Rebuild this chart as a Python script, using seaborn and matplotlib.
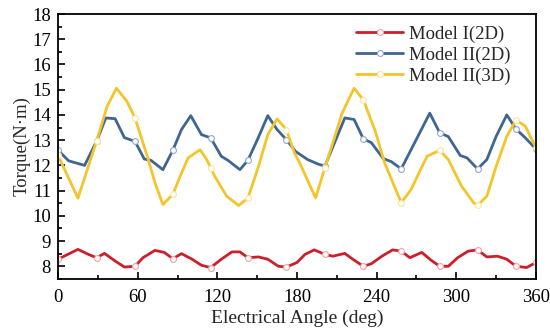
import numpy as np
import pandas as pd
import matplotlib
matplotlib.use("Agg")
import matplotlib.pyplot as plt
from matplotlib.ticker import MultipleLocator
import seaborn as sns

# ---- data ----
marker_angles = [0, 29, 58, 86.5, 115, 143, 172, 201, 230, 258.5, 287.5, 316, 345, 360]

red_angle = [0, 15, 23, 29, 35, 43, 50, 58, 64, 73, 80, 86.5, 93, 101, 108, 115,
             123, 131, 137, 143, 151, 158, 166, 172, 180, 186, 193, 201, 207, 216,
             222, 230, 236, 244, 252, 258.5, 265, 274, 281, 287.5, 294, 301, 309,
             316, 323, 331, 338, 345, 353, 360]
red_torque = [8.28, 8.67, 8.47, 8.34, 8.51, 8.21, 7.97, 8.0, 8.34, 8.63, 8.55, 8.3,
              8.5, 8.28, 8.04, 7.95, 8.28, 8.57, 8.57, 8.34, 8.37, 8.28, 8.0, 7.97,
              8.15, 8.47, 8.65, 8.47, 8.4, 8.51, 8.28, 8.0, 8.1, 8.4, 8.65, 8.6,
              8.34, 8.55, 8.24, 8.0, 8.0, 8.34, 8.6, 8.65, 8.37, 8.4, 8.28, 8.0,
              7.95, 8.15]

blue_angle = [0, 8, 20, 29, 36, 43, 50, 58, 65, 70, 79, 86.5, 93, 100, 108, 115,
              123, 128, 137, 143, 150, 158, 165, 172, 179, 188, 196, 201, 216, 223,
              230, 236, 245, 251, 258.5, 280, 287.5, 294, 303, 308, 316, 323, 330,
              338, 345, 352, 360]
blue_torque = [12.6, 12.18, 12.0, 12.95, 13.88, 13.85, 13.1, 12.95, 12.25, 12.2,
               11.83, 12.6, 13.42, 13.97, 13.22, 13.09, 12.36, 12.2, 11.83, 12.2,
               13.0, 13.97, 13.42, 13.02, 12.55, 12.23, 12.05, 11.97, 13.88, 13.82,
               13.05, 12.9, 12.27, 12.15, 11.86, 14.07, 13.29, 13.14, 12.39, 12.3,
               11.86, 12.23, 13.15, 14.0, 13.44, 13.09, 12.65]

yellow_angle = [0, 15, 29, 37, 44, 52, 58, 68, 73, 79, 86.5, 92, 98, 107, 112, 115,
                118, 127, 136, 143, 151, 158, 165, 172, 178, 182, 194, 201, 203, 214,
                223, 230, 239, 246, 258.5, 266, 273, 278, 287.5, 294, 304, 313, 316,
                323, 330, 338, 345, 352, 360]
yellow_torque = [12.4, 10.7, 12.95, 14.34, 15.06, 14.53, 13.88, 12.23, 11.31, 10.45,
                 10.85, 11.57, 12.3, 12.62, 12.23, 11.9, 11.57, 10.78, 10.41, 10.7,
                 11.96, 13.22, 13.84, 13.42, 12.5, 12.1, 10.71, 11.9, 12.23, 14.07,
                 15.06, 14.6, 13.35, 12.1, 10.52, 11.05, 11.83, 12.36, 12.6, 12.23,
                 11.17, 10.52, 10.41, 10.78, 11.96, 13.15, 13.8, 13.55, 12.7]

labels = ["Model I(2D)", "Model II(2D)", "Model II(3D)"]
colors = ["#cc1f2c", "#3f6690", "#f2c52a"]
edge_colors = ["#f0a0a0", "#8fa8c8", "#f8e4a0"]

# ---- plot ----
sns.set_theme(style="ticks")
plt.rcParams["font.family"] = ["Liberation Serif", "DejaVu Serif"]

fig, ax = plt.subplots(figsize=(5.5, 3.34), dpi=100)
fig.subplots_adjust(left=0.1055, right=0.9745, top=0.958, bottom=0.165)

series = [(red_angle, red_torque), (blue_angle, blue_torque), (yellow_angle, yellow_torque)]
for (ang, tq), lab, col, ec in zip(series, labels, colors, edge_colors):
    df = pd.DataFrame({"angle": ang, "torque": tq})
    mk = list(np.where(np.isin(df["angle"], marker_angles))[0])
    sns.lineplot(data=df, x="angle", y="torque", ax=ax, color=col, lw=2.0,
                 marker="o", markersize=4.2, markerfacecolor="white",
                 markeredgecolor=ec, markeredgewidth=0.8, markevery=mk,
                 label=lab, sort=False)

ax.set_xlim(0, 360)
ax.set_ylim(7.5, 18)
ax.xaxis.set_major_locator(MultipleLocator(60))
ax.xaxis.set_minor_locator(MultipleLocator(30))
ax.yaxis.set_major_locator(MultipleLocator(1))
ax.yaxis.set_minor_locator(MultipleLocator(0.5))
ax.tick_params(which="both", direction="in", top=False, right=False,
               labelsize=13.5, width=1.2, colors="black")
ax.tick_params(which="major", length=5)
ax.tick_params(which="minor", length=3)
ax.tick_params(axis="x", which="major", pad=7)
ax.tick_params(axis="y", which="major", pad=5)
for sp in ax.spines.values():
    sp.set_linewidth(1.3)
    sp.set_color("black")

ax.set_xlabel("Electrical Angle (deg)", fontsize=14, labelpad=3)
ax.set_ylabel("Torque(N·m)", fontsize=13.5, labelpad=1)

ax.legend(loc="upper right", frameon=False, fontsize=13.5, handlelength=2.5,
          handletextpad=0.3, labelspacing=0.2, borderaxespad=0.2,
          bbox_to_anchor=(0.97, 1.0))

fig.savefig("out.png", dpi=100)
